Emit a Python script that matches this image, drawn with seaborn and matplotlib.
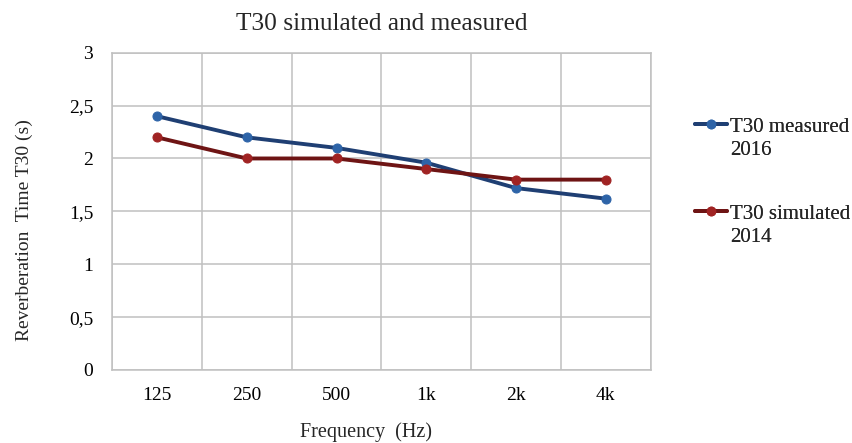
import matplotlib
matplotlib.use("Agg")
import matplotlib.pyplot as plt
from matplotlib.lines import Line2D
import seaborn as sns
import pandas as pd
import numpy as np

categories = ["125", "250", "500", "1k", "2k", "4k"]
measured_2016 = [2.4, 2.2, 2.1, 1.96, 1.72, 1.62]
simulated_2014 = [2.2, 2.0, 2.0, 1.9, 1.8, 1.8]
series_names = ["T30 measured", "T30 simulated"]
series_years = ["2016", "2014"]
y_ticks = [0, 0.5, 1, 1.5, 2, 2.5, 3]
y_tick_labels = ["0", "0,5", "1", "1,5", "2", "2,5", "3"]

sns.set_theme(style="white")
plt.rcParams["font.family"] = ["Liberation Serif", "DejaVu Serif"]

df = pd.DataFrame({
    "pos": list(range(len(categories))) * 2,
    "value": measured_2016 + simulated_2014,
    "series": [series_names[0]] * len(categories) + [series_names[1]] * len(categories),
})

fig = plt.figure(figsize=(8.53, 4.43), dpi=100)
ax = fig.add_axes([0.1313, 0.1648, 0.6317, 0.7162])

line_colors = ["#1f3f73", "#6e1414"]
marker_colors = ["#2e64a8", "#a02323"]
for name, lc, mc in zip(series_names, line_colors, marker_colors):
    sub = df[df["series"] == name]
    sns.lineplot(data=sub, x="pos", y="value", ax=ax, color=lc, linewidth=2.8,
                 marker="o", markersize=6.5, markerfacecolor=mc, markeredgecolor=mc,
                 legend=False, zorder=3)

ax.set_xlim(-0.5, len(categories) - 0.5)
ax.set_ylim(0, 3)
ax.set_xticks(range(len(categories)))
ax.set_xticklabels(categories)
ax.set_xticks(np.arange(-0.5, len(categories), 1.0), minor=True)
ax.set_yticks(y_ticks)
ax.set_yticklabels(y_tick_labels)
ax.grid(False)
ax.grid(True, which="minor", axis="x", color="#c0c0c0", linewidth=1.1)
ax.grid(True, which="major", axis="y", color="#c0c0c0", linewidth=1.1)
ax.set_axisbelow(True)
for s in ax.spines.values():
    s.set_color("#c0c0c0")
    s.set_linewidth(1.1)
ax.tick_params(axis="both", which="both", length=0, labelsize=14, colors="black")
ax.tick_params(axis="x", pad=12)
ax.tick_params(axis="y", pad=13.5)

ax.set_xlabel("Frequency  (Hz)", fontsize=14.5)
ax.xaxis.set_label_coords(0.471, -0.165)
ax.set_ylabel("Reverberation  Time T30 (s)", fontsize=14)
ax.yaxis.set_label_coords(-0.147, 0.44)
ax.set_title("T30 simulated and measured", fontsize=18.3, pad=16)

# legend: two blocks, series handle aligned with first text line, year below
tops = [1 - 117 / 443, 1 - 204 / 443]
for name, yr, lc, mc, top in zip(series_names, series_years, line_colors, marker_colors, tops):
    h = Line2D([], [], color=lc, linewidth=2.8, marker="o", markersize=6,
               markerfacecolor=mc, markeredgecolor=mc)
    blank = Line2D([], [], linestyle="none", marker="none")
    leg = fig.legend([h, blank], [name, yr], loc="upper left",
                     bbox_to_anchor=(695 / 853, top), bbox_transform=fig.transFigure,
                     frameon=False, fontsize=15, labelspacing=0.2, handlelength=1.55,
                     handletextpad=0.12, borderpad=0.0, borderaxespad=0.0)
    fig.add_artist(leg)

fig.savefig("out.png", dpi=100)
